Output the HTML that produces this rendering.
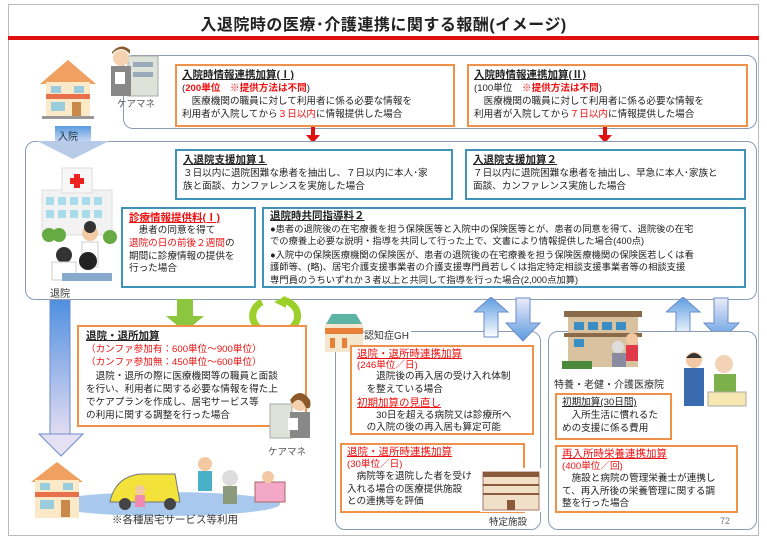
<!DOCTYPE html>
<html><head><meta charset="utf-8"><style>
*{margin:0;padding:0;box-sizing:border-box}
body{width:767px;height:543px;background:#fff;position:relative;overflow:hidden;font-family:"Liberation Sans","Noto Sans CJK JP",sans-serif;color:#222}
.a{position:absolute}
.pan{position:absolute;border:1.5px solid #8a9bb3;border-radius:10px;background:#fff}
.ob{position:absolute;border:2px solid #f0914a;background:#fff;padding:2px 5px;font-size:9.6px;line-height:13px}
.bb{position:absolute;border:2px solid #3f93b8;background:#fff;padding:2px 6px;font-size:9.6px;line-height:13px}
.t{font-weight:bold;text-decoration:underline;font-size:10.5px;line-height:14px}
.r{color:#ee1111}
.rb{color:#ee1111;font-weight:bold}
.ru{color:#ee1111;text-decoration:underline;font-size:10.5px}
</style></head><body>
<div class="a" style="left:8px;top:4px;width:751px;height:532px;border:1px solid #bbb"></div>
<div class="a" style="left:0;top:11px;width:767px;text-align:center;font-size:16px;font-weight:bold;letter-spacing:0.5px">入退院時の医療･介護連携に関する報酬(イメージ)</div>
<div class="a" style="left:8px;top:36px;width:751px;height:4px;background:#e01010"></div>

<div class="pan" style="left:123px;top:55px;width:634px;height:74px"></div>
<svg class="a" style="left:38px;top:58px" width="60" height="62"><polygon points="30,2 2,26 58,26" fill="#f0a060"/><rect x="8" y="24" width="44" height="34" fill="#fbe9c8"/><rect x="8" y="36" width="44" height="5" fill="#e8704a"/><rect x="13" y="28" width="10" height="7" fill="#9cd"/><rect x="36" y="28" width="10" height="7" fill="#9cd"/><rect x="13" y="44" width="14" height="9" fill="#9cd"/><rect x="34" y="44" width="9" height="14" fill="#c8894a"/><rect x="4" y="58" width="52" height="3" fill="#999"/></svg>
<svg class="a" style="left:103px;top:44px" width="62" height="56"><rect x="25" y="12" width="30" height="40" fill="#dde3d8" stroke="#aaa"/><rect x="30" y="18" width="20" height="5" fill="#9ab"/><rect x="30" y="28" width="20" height="5" fill="#9ab"/><circle cx="18" cy="14" r="8" fill="#f6d2b0"/><path d="M9,10 Q18,0 27,10 L27,6 Q18,-2 9,8z" fill="#8a5a2a"/><rect x="8" y="22" width="20" height="30" fill="#888"/><rect x="12" y="28" width="10" height="12" fill="#fff"/></svg>
<div class="a" style="left:117px;top:96px;font-size:9.5px;color:#555">ケアマネ</div>
<div class="ob" style="left:175px;top:64px;width:280px;height:63px"><div class="t">入院時情報連携加算(Ⅰ)</div><div>(<span class="rb">200単位　※提供方法は不問</span>)</div><div>　医療機関の職員に対して利用者に係る必要な情報を</div><div>利用者が入院してから<span class="r">３日以内</span>に情報提供した場合</div></div>
<div class="ob" style="left:467px;top:64px;width:281px;height:63px"><div class="t">入院時情報連携加算(Ⅱ)</div><div>(100単位　<span class="rb">※提供方法は不問</span>)</div><div>　医療機関の職員に対して利用者に係る必要な情報を</div><div>利用者が入院してから<span class="r">７日以内</span>に情報提供した場合</div></div>
<svg class="a" style="left:306px;top:127px" width="14" height="16"><rect x="5" y="0" width="4" height="9" fill="#e01010"/><polygon points="0,8 14,8 7,16" fill="#e01010"/></svg>
<svg class="a" style="left:598px;top:127px" width="14" height="16"><rect x="5" y="0" width="4" height="9" fill="#e01010"/><polygon points="0,8 14,8 7,16" fill="#e01010"/></svg>

<div class="pan" style="left:25px;top:141px;width:732px;height:159px"></div>
<svg class="a" style="left:35px;top:126px" width="75" height="34"><defs><linearGradient id="g1" x1="0" y1="0" x2="0" y2="1"><stop offset="0" stop-color="#5b9be0"/><stop offset="1" stop-color="#c9d9f2"/></linearGradient></defs><rect x="20" y="0" width="36" height="16" fill="url(#g1)"/><polygon points="2,15 74,15 38,33" fill="#b7cbe9"/></svg>
<div class="a" style="left:58px;top:128px;font-size:10px;color:#234">入院</div>
<svg class="a" style="left:22px;top:165px" width="100" height="120"><rect x="20" y="25" width="70" height="45" fill="#f2f2f2" stroke="#ddd"/><rect x="40" y="3" width="30" height="25" fill="#f7f7f7" stroke="#ddd"/><rect x="52" y="9" width="6" height="14" fill="#e22"/><rect x="48" y="13" width="14" height="6" fill="#e22"/><g fill="#a8dcea"><rect x="24" y="32" width="8" height="8"/><rect x="36" y="32" width="8" height="8"/><rect x="48" y="32" width="8" height="8"/><rect x="60" y="32" width="8" height="8"/><rect x="72" y="32" width="8" height="8"/><rect x="24" y="45" width="8" height="8"/><rect x="36" y="45" width="8" height="8"/><rect x="48" y="45" width="8" height="8"/><rect x="60" y="45" width="8" height="8"/><rect x="72" y="45" width="8" height="8"/></g><circle cx="27" cy="70" r="7" fill="#6a4"/><circle cx="37" cy="70" r="7" fill="#6a4"/><circle cx="88" cy="72" r="7" fill="#6a4"/><circle cx="68" cy="68" r="8" fill="#f2cba5"/><circle cx="68" cy="62" r="6" fill="#333"/><rect x="60" y="77" width="16" height="25" fill="#fff" stroke="#ccc"/><circle cx="42" cy="90" r="8" fill="#333"/><rect x="30" y="97" width="24" height="18" fill="#fff" stroke="#ccc"/><circle cx="66" cy="96" r="9" fill="#222"/><rect x="40" y="108" width="50" height="8" fill="#8ac"/></svg>
<div class="a" style="left:50px;top:285px;font-size:10px;color:#333">退院</div>
<div class="bb" style="left:175px;top:149px;width:278px;height:51px"><div class="t">入退院支援加算１</div><div>３日以内に退院困難な患者を抽出し、７日以内に本人･家</div><div>族と面談、カンファレンスを実施した場合</div></div>
<div class="bb" style="left:465px;top:149px;width:281px;height:51px"><div class="t">入退院支援加算２</div><div>７日以内に退院困難な患者を抽出し、早急に本人･家族と</div><div>面談、カンファレンス実施した場合</div></div>
<div class="bb" style="left:121px;top:207px;width:135px;height:81px;line-height:12.8px"><div class="ru" style="font-weight:bold;line-height:14px">診療情報提供料(Ⅰ)</div><div>　患者の同意を得て</div><div class="r">退院の日の前後２週間<span style="color:#222">の</span></div><div>期間に診療情報の提供を</div><div>行った場合</div></div>
<div class="bb" style="left:262px;top:207px;width:484px;height:81px;line-height:12.4px;padding-top:1px;font-size:9.3px"><div class="t" style="line-height:13px">退院時共同指導料２</div><div>●患者の退院後の在宅療養を担う保険医等と入院中の保険医等とが、患者の同意を得て、退院後の在宅</div><div>での療養上必要な説明・指導を共同して行った上で、文書により情報提供した場合(400点)</div><div style="margin-top:1px">●入院中の保険医療機関の保険医が、患者の退院後の在宅療養を担う保険医療機関の保険医若しくは看</div><div>護師等、(略)、居宅介護支援事業者の介護支援専門員若しくは指定特定相談支援事業者等の相談支援</div><div>専門員のうちいずれか３者以上と共同して指導を行った場合(2,000点加算)</div></div>

<svg class="a" style="left:38px;top:300px" width="46" height="158"><defs><linearGradient id="g2" x1="0" y1="0" x2="0" y2="1"><stop offset="0" stop-color="#4f8fe0"/><stop offset="1" stop-color="#e4dcf2"/></linearGradient></defs><rect x="12" y="0" width="20" height="135" fill="url(#g2)" stroke="#6a8ccc" stroke-width="1"/><polygon points="1,134 45,134 23,156" fill="#e6e0f4" stroke="#6a8ccc"/></svg>
<svg class="a" style="left:164px;top:299px" width="42" height="34"><rect x="13" y="0" width="16" height="18" fill="#8cc63f"/><polygon points="2,17 40,17 21,33" fill="#8cc63f"/></svg>
<svg class="a" style="left:248px;top:296px" width="56" height="42"><path d="M14,6 A18,16 0 0 0 22,36" stroke="#9ccf2a" stroke-width="7" fill="none"/><path d="M40,34 A18,16 0 0 0 34,4" stroke="#9ccf2a" stroke-width="7" fill="none"/><polygon points="16,30 30,36 18,42" fill="#9ccf2a"/><polygon points="38,0 26,6 38,12" fill="#9ccf2a"/></svg>

<div class="ob" style="left:77px;top:325px;width:230px;height:102px;padding-left:7px;line-height:13.3px"><div class="t">退院・退所加算</div><div class="r">（カンファ参加有：600単位～900単位）</div><div class="r">（カンファ参加無：450単位～600単位）</div><div>　退院・退所の際に医療機関等の職員と面談</div><div>を行い、利用者に関する必要な情報を得た上</div><div>でケアプランを作成し、居宅サービス等</div><div>の利用に関する調整を行った場合</div></div>
<svg class="a" style="left:266px;top:388px" width="50" height="56"><rect x="4" y="16" width="22" height="34" fill="#dde3d8" stroke="#aaa"/><circle cx="34" cy="14" r="9" fill="#f5d0ae"/><path d="M24,12 Q34,-2 44,12 Q46,22 40,20 Q34,6 26,16z" fill="#8a5a2a"/><rect x="24" y="24" width="20" height="26" fill="#888"/><rect x="22" y="30" width="10" height="12" fill="#fff"/></svg>
<div class="a" style="left:268px;top:444px;font-size:9.5px;color:#555">ケアマネ</div>
<svg class="a" style="left:25px;top:452px" width="280" height="70"><ellipse cx="140" cy="52" rx="115" ry="12" fill="#a8c8ee"/><polygon points="32,10 6,30 58,30" fill="#f0a060"/><rect x="10" y="28" width="44" height="38" fill="#fbe9c8"/><rect x="10" y="40" width="44" height="5" fill="#e8704a"/><rect x="15" y="31" width="10" height="7" fill="#9cd"/><rect x="38" y="31" width="10" height="7" fill="#9cd"/><rect x="15" y="48" width="14" height="9" fill="#9cd"/><rect x="36" y="48" width="9" height="17" fill="#c8894a"/><path d="M85,50 Q90,25 115,22 L150,22 L155,50z" fill="#f2e23a" stroke="#777"/><circle cx="100" cy="52" r="6" fill="#444"/><circle cx="145" cy="52" r="6" fill="#444"/><circle cx="115" cy="38" r="5" fill="#f3c9a3"/><rect x="110" y="43" width="10" height="12" fill="#f08ab0"/><circle cx="180" cy="12" r="7" fill="#f3c9a3"/><rect x="173" y="19" width="14" height="20" fill="#4ab0c8"/><circle cx="205" cy="26" r="8" fill="#ddd"/><rect x="198" y="34" width="14" height="18" fill="#8a9a7a"/><rect x="230" y="30" width="30" height="20" fill="#f4a8c8" stroke="#a66"/><circle cx="243" cy="25" r="6" fill="#f3c9a3"/></svg>
<div class="a" style="left:112px;top:512px;font-size:10.5px;color:#333">※各種居宅サービス等利用</div>

<div class="pan" style="left:335px;top:331px;width:206px;height:199px"></div>
<svg class="a" style="left:322px;top:314px" width="44" height="40"><polygon points="4,10 10,0 34,0 40,10" fill="#5db3a4"/><rect x="3" y="10" width="38" height="28" fill="#f5e7cd"/><rect x="3" y="14" width="38" height="6" fill="#e8803a"/><rect x="8" y="24" width="5" height="10" fill="#e8803a"/><rect x="20" y="24" width="5" height="10" fill="#e8803a"/></svg>
<div class="a" style="left:364px;top:327px;font-size:10px;color:#333;background:#fff;padding-right:2px">認知症GH</div>
<div class="ob" style="left:350px;top:345px;width:184px;height:90px;line-height:12.4px;padding-top:1px"><div class="ru">退院・退所時連携加算</div><div class="r" style="line-height:11px">(246単位／日)</div><div>　　退院後の再入居の受け入れ体制</div><div>　を整えている場合</div><div class="ru" style="margin-top:1px">初期加算の見直し</div><div>　　30日を超える病院又は診療所へ</div><div>　の入院の後の再入居も算定可能</div></div>
<div class="ob" style="left:340px;top:443px;width:185px;height:70px;line-height:12.5px;padding-top:1px"><div class="ru">退院・退所時連携加算</div><div class="r">(30単位／日)</div><div>　病院等を退院した者を受け</div><div>入れる場合の医療提供施設</div><div>との連携等を評価</div></div>
<svg class="a" style="left:480px;top:468px" width="62" height="44"><rect x="0" y="0" width="62" height="44" fill="#fff"/><rect x="3" y="4" width="56" height="38" fill="#f0e0c8" stroke="#a76"/><rect x="3" y="4" width="56" height="5" fill="#8b5a3a"/><g fill="#8b5a3a"><rect x="3" y="16" width="56" height="2"/><rect x="3" y="25" width="56" height="2"/><rect x="27" y="32" width="8" height="10"/></g></svg>
<div class="a" style="left:489px;top:514px;font-size:9.5px;color:#333;background:#fff">特定施設</div>

<svg class="a" style="left:474px;top:297px" width="72" height="46"><defs><linearGradient id="gu" x1="0" y1="1" x2="0" y2="0"><stop offset="0" stop-color="#fff"/><stop offset="1" stop-color="#5b9be0"/></linearGradient><linearGradient id="gd" x1="0" y1="0" x2="0" y2="1"><stop offset="0" stop-color="#ecebf8"/><stop offset="1" stop-color="#5b9be0"/></linearGradient></defs><polygon points="17,0 0,15 10,15 10,40 24,40 24,15 34,15" fill="url(#gu)" stroke="#6a8ccc"/><polygon points="42,1 56,1 56,26 66,26 49,44 32,26 42,26" fill="url(#gd)" stroke="#6a8ccc"/></svg>
<svg class="a" style="left:666px;top:297px" width="80" height="46"><polygon points="17,0 0,15 10,15 10,40 24,40 24,15 34,15" fill="url(#gu)" stroke="#6a8ccc"/><polygon points="48,1 62,1 62,26 73,26 55,44 38,26 48,26" fill="url(#gd)" stroke="#6a8ccc"/></svg>

<div class="pan" style="left:548px;top:331px;width:209px;height:199px"></div>
<svg class="a" style="left:562px;top:309px" width="92" height="64"><rect x="2" y="2" width="78" height="6" fill="#8b6a4a"/><rect x="6" y="8" width="70" height="50" fill="#d9c2a0"/><g fill="#3a8ec4"><rect x="12" y="13" width="10" height="8"/><rect x="26" y="13" width="10" height="8"/><rect x="40" y="13" width="10" height="8"/><rect x="54" y="13" width="10" height="8"/><rect x="12" y="30" width="10" height="8"/></g><rect x="2" y="24" width="78" height="4" fill="#8b6a4a"/><rect x="0" y="52" width="30" height="8" fill="#4a8a3a"/><circle cx="70" cy="30" r="6" fill="#f3c9a3"/><rect x="64" y="36" width="12" height="16" fill="#e03a4a"/><circle cx="56" cy="38" r="6" fill="#ddd"/><rect x="50" y="44" width="14" height="14" fill="#8a8aa0"/></svg>
<div class="a" style="left:554px;top:376px;font-size:10px;color:#333">特養・老健・介護医療院</div>
<svg class="a" style="left:678px;top:348px" width="70" height="60"><circle cx="16" cy="12" r="8" fill="#f3c9a3"/><path d="M8,10 Q16,0 24,10z" fill="#333"/><rect x="6" y="20" width="20" height="38" fill="#3a6ab0"/><circle cx="46" cy="16" r="9" fill="#f3d2b5"/><rect x="36" y="26" width="22" height="20" fill="#7cb04a"/><rect x="30" y="44" width="38" height="14" fill="#f6e8b0" stroke="#aaa"/></svg>
<div class="ob" style="left:555px;top:393px;width:117px;height:47px;line-height:13px;padding-top:1px"><div style="text-decoration:underline">初期加算(30日間)</div><div>　入所生活に慣れるた</div><div>めの支援に係る費用</div></div>
<div class="ob" style="left:555px;top:445px;width:183px;height:68px;line-height:12.5px;padding-top:1px"><div class="ru">再入所時栄養連携加算</div><div class="r">(400単位／回)</div><div>　施設と病院の管理栄養士が連携し</div><div>て、再入所後の栄養管理に関する調</div><div>整を行った場合</div></div>
<div class="a" style="left:720px;top:516px;font-size:9px;color:#777">72</div>
</body></html>
